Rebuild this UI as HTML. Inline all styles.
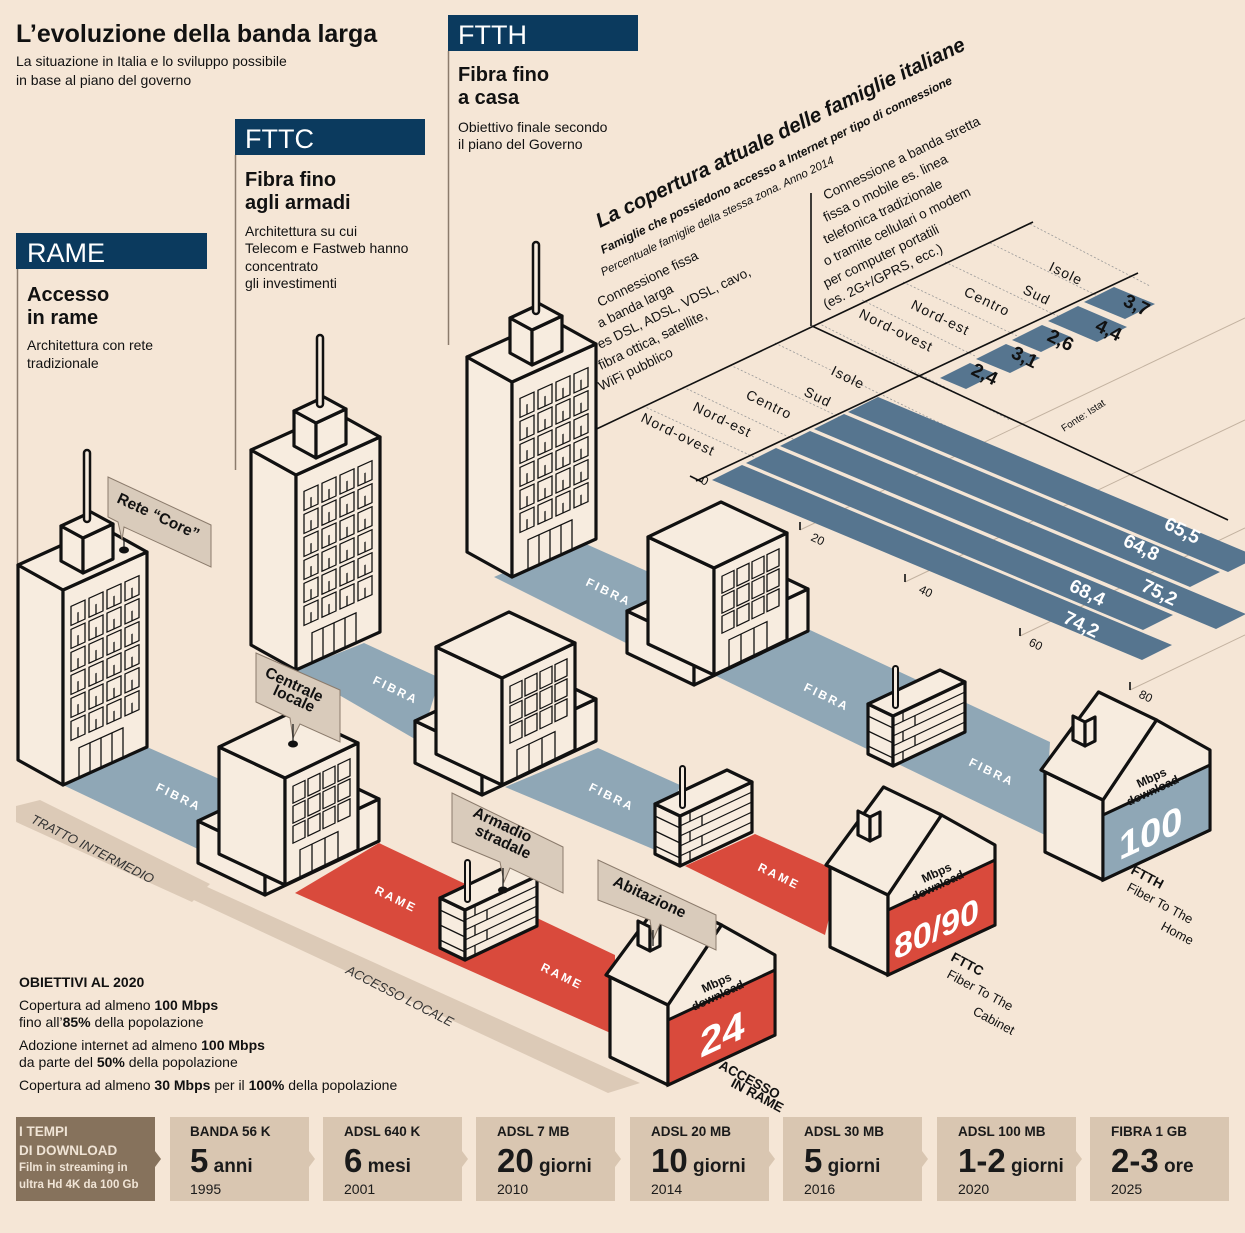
<!DOCTYPE html>
<html><head><meta charset="utf-8"><style>
html,body{margin:0;padding:0;background:#f5e6d6;}
svg{display:block;font-family:"Liberation Sans Narrow","Liberation Sans",sans-serif;}
.o{stroke:#111;stroke-width:3.2;stroke-linejoin:round;fill:#f7ecdf;}
.t{stroke:#111;stroke-width:1.3;fill:none;}
</style></head><body>
<svg width="1245" height="1233" viewBox="0 0 1245 1233" xmlns="http://www.w3.org/2000/svg">
<rect width="1245" height="1233" fill="#f5e6d6"/>
<defs>
<g id="tall">
 <polygon class="o" points="-45,-25 0,0 0,-195 -45,-220"/>
 <polygon class="o" points="0,0 84,-38 84,-233 0,-195"/>
 <polygon class="o" points="0,-195 84,-233 39,-258 -45,-220"/>
 <g transform="matrix(1,-0.452,0,1,0,0)" class="t">
  <rect x="8" y="-175" width="14" height="19"/><rect x="26" y="-175" width="14" height="19"/><rect x="44" y="-175" width="14" height="19"/><rect x="62" y="-175" width="14" height="19"/>
  <rect x="8" y="-152" width="14" height="19"/><rect x="26" y="-152" width="14" height="19"/><rect x="44" y="-152" width="14" height="19"/><rect x="62" y="-152" width="14" height="19"/>
  <rect x="8" y="-129" width="14" height="19"/><rect x="26" y="-129" width="14" height="19"/><rect x="44" y="-129" width="14" height="19"/><rect x="62" y="-129" width="14" height="19"/>
  <rect x="8" y="-106" width="14" height="19"/><rect x="26" y="-106" width="14" height="19"/><rect x="44" y="-106" width="14" height="19"/><rect x="62" y="-106" width="14" height="19"/>
  <rect x="8" y="-83" width="14" height="19"/><rect x="26" y="-83" width="14" height="19"/><rect x="44" y="-83" width="14" height="19"/><rect x="62" y="-83" width="14" height="19"/>
  <rect x="8" y="-60" width="14" height="19"/><rect x="26" y="-60" width="14" height="19"/><rect x="44" y="-60" width="14" height="19"/><rect x="62" y="-60" width="14" height="19"/>
  <path d="M15,-166v10M33,-166v10M51,-166v10M69,-166v10M15,-143v10M33,-143v10M51,-143v10M69,-143v10M15,-120v10M33,-120v10M51,-120v10M69,-120v10M15,-97v10M33,-97v10M51,-97v10M69,-97v10M15,-74v10M33,-74v10M51,-74v10M69,-74v10M15,-51v10M33,-51v10M51,-51v10M69,-51v10"/>
  <rect x="16" y="-30" width="44" height="30"/><path d="M27,-30v30M38,-30v30M49,-30v30"/>
 </g>
 <polygon class="o" points="-2,-224 20,-212 20,-247 -2,-259"/>
 <polygon class="o" points="20,-212 50,-226 50,-261 20,-247"/>
 <polygon class="o" points="20,-247 50,-261 28,-273 -2,-259"/>
 <rect x="21" y="-335" width="6" height="72" rx="3" fill="#f7ecdf" stroke="#111" stroke-width="2.5"/>
</g>
<g id="mid">
 <polygon class="o" points="-87,-22 -20,10 -20,-32 -87,-64"/>
 <polygon class="o" points="-20,10 94,-44 94,-86 -20,-32"/>
 <polygon class="o" points="-20,-32 94,-86 27,-118 -87,-64"/>
 <polygon class="o" points="-66,-31 0,0 0,-107 -66,-138"/>
 <polygon class="o" points="0,0 73,-35 73,-142 0,-107"/>
 <polygon class="o" points="0,-107 73,-142 7,-173 -66,-138"/>
 <g transform="matrix(1,-0.479,0,1,0,0)" class="t">
  <rect x="8" y="-95" width="12" height="17"/><rect x="23" y="-95" width="12" height="17"/><rect x="38" y="-95" width="12" height="17"/><rect x="53" y="-95" width="12" height="17"/>
  <rect x="8" y="-75" width="12" height="17"/><rect x="23" y="-75" width="12" height="17"/><rect x="38" y="-75" width="12" height="17"/><rect x="53" y="-75" width="12" height="17"/>
  <rect x="8" y="-55" width="12" height="17"/><rect x="23" y="-55" width="12" height="17"/><rect x="38" y="-55" width="12" height="17"/><rect x="53" y="-55" width="12" height="17"/>
  <rect x="15" y="-28" width="38" height="28"/><path d="M27,-28v28M40,-28v28"/>
 </g>
</g>
<g id="cab">
 <polygon class="o" points="-25,-12 0,0 0,-50 -25,-62"/>
 <polygon class="o" points="0,0 72,-34 72,-84 0,-50"/>
 <polygon class="o" points="0,-50 72,-84 47,-96 -25,-62"/>
 <g transform="matrix(1,-0.472,0,1,0,0)" class="t">
  <path d="M0,-10h72M0,-20h72M0,-30h72M0,-40h72M10,0v-10M22,-10v-10M10,-20v-10M22,-30v-10M10,-40v-10"/>
 </g>
 <path d="M-25,-20 L0,-8 M-25,-35 L0,-23 M-25,-50 L0,-38" class="t"/>
 <rect x="0" y="-100" width="5" height="42" rx="2.5" fill="#f7ecdf" stroke="#111" stroke-width="2"/>
</g>
<g id="house">
 <polygon class="o" points="-58,-28 0,0 0,-80 -58,-108"/>
 <polygon class="o" points="0,0 107,-50 107,-130 53.5,-160 0,-80"/>
 <polygon class="o" points="0,-80 53.5,-160 -4.5,-188 -62,-110"/>
 <polygon class="o" points="-30,-140 -18,-134 -18,-158 -30,-164"/>
 <polygon class="o" points="-18,-134 -8,-139 -8,-163 -18,-158"/>
</g>
</defs>

<polygon points="16,806 40,800 210,884 192,902 16,822" fill="#dccab7"/>
<polygon points="183,895 205,886 640,1083 608,1093" fill="#dccab7"/>
<text transform="translate(30,822) rotate(27)" font-size="13" font-style="italic" fill="#333">TRATTO INTERMEDIO</text>
<text transform="translate(345,973) rotate(27)" font-size="13" font-style="italic" fill="#333">ACCESSO LOCALE</text>

<path d="M17.5,269V570M235.5,155V470M448.5,51V345" stroke="#8b7b6c" stroke-width="1.5"/>

<g stroke="#c3b2a0" stroke-width="1">
<path d="M800,530L1245,318M905,582L1245,420M1020,636L1245,528M1130,690L1245,635"/>
</g>
<g stroke="#999" stroke-width="0.8" stroke-dasharray="2,2">
<path d="M643,406L830,492M683,387L880,480M730,365L930,460M775,343L975,440M818,323L1010,420"/>
<path d="M862,300L975,356M903,282L1030,342M945,262L1070,322M990,243L1110,302M1030,224L1150,286"/>
</g>
<g stroke="#111" stroke-width="1.6" fill="none">
<path d="M586,434L1033,222"/>
<path d="M811,193V326"/>
<path d="M812,326L1228,520"/>
<path d="M696,481L1138,273"/>
<path d="M690,476l12,6M800,530v-8M905,582v-8M1020,636v-8M1130,690v-8"/>
</g>
<g fill="#56758f">
<polygon points="712,480 742,465 1172,645 1142,660"/>
<polygon points="746,463 776,448 1173,615 1143,630"/>
<polygon points="780,446 810,431 1246,614 1216,629"/>
<polygon points="814,429 844,414 1220,572 1190,587"/>
<polygon points="848,412 878,397 1258,557 1228,572"/>
</g>
<g fill="#56758f">
<polygon points="940,378 970,363 996,374 966,389"/>
<polygon points="976,359 1006,344 1040,358 1010,373"/>
<polygon points="1012,340 1042,325 1071,337 1041,352"/>
<polygon points="1048,321 1078,306 1127,327 1097,342"/>
<polygon points="1084,302 1114,287 1155,304 1125,319"/>
</g>
<g font-weight="bold" font-size="19" fill="#fff">
<text transform="translate(1163,528) rotate(26)">65,5</text>
<text transform="translate(1122,545) rotate(26)">64,8</text>
<text transform="translate(1140,590) rotate(26)">75,2</text>
<text transform="translate(1068,590) rotate(26)">68,4</text>
<text transform="translate(1062,622) rotate(26)">74,2</text>
</g>
<g font-weight="bold" font-size="19" fill="#111">
<text transform="translate(1122,305) rotate(26)">3,7</text>
<text transform="translate(1094,330) rotate(26)">4,4</text>
<text transform="translate(1046,340) rotate(26)">2,6</text>
<text transform="translate(1010,357) rotate(26)">3,1</text>
<text transform="translate(970,374) rotate(26)">2,4</text>
</g>
<g font-size="14" fill="#111" letter-spacing="1.2">
<text transform="translate(640,421) rotate(26)">Nord-ovest</text>
<text transform="translate(692,410) rotate(26)">Nord-est</text>
<text transform="translate(745,398) rotate(26)">Centro</text>
<text transform="translate(803,395) rotate(26)">Sud</text>
<text transform="translate(830,374) rotate(26)">Isole</text>
<text transform="translate(858,317) rotate(26)">Nord-ovest</text>
<text transform="translate(910,308) rotate(26)">Nord-est</text>
<text transform="translate(963,295) rotate(26)">Centro</text>
<text transform="translate(1022,293) rotate(26)">Sud</text>
<text transform="translate(1048,270) rotate(26)">Isole</text>
</g>
<g font-size="12" fill="#111">
<text transform="translate(700,483) rotate(26)">0</text>
<text transform="translate(810,540) rotate(26)">20</text>
<text transform="translate(918,592) rotate(26)">40</text>
<text transform="translate(1028,645) rotate(26)">60</text>
<text transform="translate(1138,697) rotate(26)">80</text>
<text transform="translate(1064,432) rotate(-33)" font-size="10">Fonte: Istat</text>
</g>
<g fill="#111">
<text transform="translate(600,228) rotate(-26)" font-size="20.5" font-weight="bold" font-style="italic">La copertura attuale delle famiglie italiane</text>
<text transform="translate(603,254) rotate(-26)" font-size="12" font-weight="bold" font-style="italic">Famiglie che possiedono accesso a Internet per tipo di connessione</text>
<text transform="translate(603,276) rotate(-26)" font-size="11.5" font-style="italic">Percentuale famiglie della stessa zona. Anno 2014</text>
<g font-size="13.5">
<text transform="translate(600,307) rotate(-26)">Connessione fissa</text>
<text transform="translate(600,328) rotate(-26)">a banda larga</text>
<text transform="translate(600,349) rotate(-26)">es DSL, ADSL, VDSL, cavo,</text>
<text transform="translate(601,370) rotate(-26)">fibra ottica, satellite,</text>
<text transform="translate(601,391) rotate(-26)">WiFi pubblico</text>
<text transform="translate(826,200) rotate(-26)">Connessione a banda stretta</text>
<text transform="translate(826,222) rotate(-26)">fissa o mobile es. linea</text>
<text transform="translate(826,244) rotate(-26)">telefonica tradizionale</text>
<text transform="translate(826,266) rotate(-26)">o tramite cellulari o modem</text>
<text transform="translate(826,288) rotate(-26)">per computer portatili</text>
<text transform="translate(826,309) rotate(-26)">(es. 2G+/GPRS, ecc.)</text>
</g>
</g>

<g fill="#8fa7b6">
<polygon points="63,785 147,747 260,797 200,850"/>
<polygon points="296,670 364,643 440,678 420,742"/>
<polygon points="505,787 598,748 680,785 660,852"/>
<polygon points="494,577 577,540 660,577 640,650"/>
<polygon points="714,675 810,630 1050,742 1045,835"/>
</g>
<g fill="#d94a3c">
<polygon points="295,893 379,843 615,955 615,1035"/>
<polygon points="685,866 755,834 840,872 825,935"/>
</g>
<g fill="#fff" font-size="12" font-weight="bold" letter-spacing="2.5">
<text transform="translate(155,790) rotate(26)">FIBRA</text>
<text transform="translate(372,683) rotate(26)">FIBRA</text>
<text transform="translate(588,790) rotate(26)">FIBRA</text>
<text transform="translate(585,585) rotate(26)">FIBRA</text>
<text transform="translate(803,690) rotate(26)">FIBRA</text>
<text transform="translate(968,765) rotate(26)">FIBRA</text>
<text transform="translate(374,893) rotate(26)">RAME</text>
<text transform="translate(540,970) rotate(26)">RAME</text>
<text transform="translate(757,870) rotate(26)">RAME</text>
</g>

<use href="#tall" transform="translate(512,577)"/>
<use href="#tall" transform="translate(296,670)"/>
<use href="#tall" transform="translate(63,785)"/>
<use href="#mid" transform="translate(714,675)"/>
<use href="#mid" transform="translate(502,785)"/>
<use href="#mid" transform="translate(285,885)"/>
<use href="#cab" transform="translate(893,766)"/>
<use href="#cab" transform="translate(680,866)"/>
<use href="#cab" transform="translate(465,960)"/>
<ellipse cx="124" cy="550" rx="5" ry="3.5" fill="#111"/>
<ellipse cx="293" cy="744" rx="5" ry="3.5" fill="#111"/>
<ellipse cx="503" cy="890" rx="5" ry="3.5" fill="#111"/>

<g transform="translate(1103,880)">
 <use href="#house"/>
 <polygon points="0,0 107,-50 107,-115 0,-65" fill="#8fa7b6" stroke="#111" stroke-width="3"/>
 <g transform="matrix(1,-0.467,0,1,0,0)"><text x="16" y="-12" font-size="38" font-weight="bold" fill="#fff">100</text></g>
 <text transform="translate(36,-92) rotate(-25)" font-size="12" font-weight="bold" fill="#111">Mbps</text>
 <text transform="translate(26,-74) rotate(-25)" font-size="12" font-weight="bold" fill="#111">download</text>
</g>
<g transform="translate(888,975)">
 <use href="#house"/>
 <polygon points="0,0 107,-50 107,-115 0,-65" fill="#d94a3c" stroke="#111" stroke-width="3"/>
 <g transform="matrix(1,-0.467,0,1,0,0)"><text x="6" y="-12" font-size="34" font-weight="bold" fill="#fff">80/90</text></g>
 <text transform="translate(36,-92) rotate(-25)" font-size="12" font-weight="bold" fill="#111">Mbps</text>
 <text transform="translate(26,-74) rotate(-25)" font-size="12" font-weight="bold" fill="#111">download</text>
</g>
<g transform="translate(668,1085)">
 <use href="#house"/>
 <polygon points="0,0 107,-50 107,-115 0,-65" fill="#d94a3c" stroke="#111" stroke-width="3"/>
 <g transform="matrix(1,-0.467,0,1,0,0)"><text x="32" y="-12" font-size="40" font-weight="bold" fill="#fff">24</text></g>
 <text transform="translate(36,-92) rotate(-25)" font-size="12" font-weight="bold" fill="#111">Mbps</text>
 <text transform="translate(26,-74) rotate(-25)" font-size="12" font-weight="bold" fill="#111">download</text>
</g>
<g fill="#111" font-size="13.5" font-weight="bold">
<text transform="translate(718,1068) rotate(28)">ACCESSO</text>
<text transform="translate(730,1086) rotate(28)">IN RAME</text>
<text transform="translate(950,960) rotate(28)">FTTC</text>
<text transform="translate(1130,873) rotate(28)">FTTH</text>
</g>
<g fill="#111" font-size="13">
<text transform="translate(946,977) rotate(28)">Fiber To The</text>
<text transform="translate(972,1014) rotate(28)">Cabinet</text>
<text transform="translate(1126,890) rotate(28)">Fiber To The</text>
<text transform="translate(1160,929) rotate(28)">Home</text>
</g>

<g fill="#d9cbbb" stroke="#8b7b6c" stroke-width="1">
<polygon points="108,477 211,525 211,567 124,527 122,540 118,522 108,517"/>
<polygon points="256,653 340,690 340,742 300,724 293,738 290,718 256,702"/>
<polygon points="452,793 563,847 563,893 510,868 504,882 500,862 452,842"/>
<polygon points="598,860 716,915 716,950 660,924 653,940 650,920 598,900"/>
</g>
<path d="M124,540v8M293,724v18M503,868v20M653,930v16" stroke="#111" stroke-width="1.2"/>
<g fill="#111" font-size="15.5" font-weight="bold">
<text transform="translate(116,502) rotate(25)">Rete “Core”</text>
<text transform="translate(264,676) rotate(25)">Centrale</text>
<text transform="translate(272,694) rotate(25)">locale</text>
<text transform="translate(472,816) rotate(25)">Armadio</text>
<text transform="translate(474,834) rotate(25)">stradale</text>
<text transform="translate(612,885) rotate(25)">Abitazione</text>
</g>

<text x="16" y="42" font-size="25" font-weight="bold" fill="#111">L’evoluzione della banda larga</text>
<text x="16" y="66" font-size="14" fill="#111">La situazione in Italia e lo sviluppo possibile</text>
<text x="16" y="85" font-size="14" fill="#111">in base al piano del governo</text>

<rect x="16" y="233" width="191" height="36" fill="#0b3a5e"/>
<text x="27" y="262" font-size="27" fill="#fff">RAME</text>
<text x="27" y="301" font-size="20" font-weight="bold" fill="#111">Accesso</text>
<text x="27" y="324" font-size="20" font-weight="bold" fill="#111">in rame</text>
<text x="27" y="350" font-size="14" fill="#111">Architettura con rete</text>
<text x="27" y="368" font-size="14" fill="#111">tradizionale</text>

<rect x="235" y="119" width="190" height="36" fill="#0b3a5e"/>
<text x="245" y="148" font-size="27" fill="#fff">FTTC</text>
<text x="245" y="186" font-size="20" font-weight="bold" fill="#111">Fibra fino</text>
<text x="245" y="209" font-size="20" font-weight="bold" fill="#111">agli armadi</text>
<text x="245" y="236" font-size="14" fill="#111">Architettura su cui</text>
<text x="245" y="253" font-size="14" fill="#111">Telecom e Fastweb hanno</text>
<text x="245" y="271" font-size="14" fill="#111">concentrato</text>
<text x="245" y="288" font-size="14" fill="#111">gli investimenti</text>

<rect x="448" y="15" width="190" height="36" fill="#0b3a5e"/>
<text x="458" y="44" font-size="27" fill="#fff">FTTH</text>
<text x="458" y="81" font-size="20" font-weight="bold" fill="#111">Fibra fino</text>
<text x="458" y="104" font-size="20" font-weight="bold" fill="#111">a casa</text>
<text x="458" y="132" font-size="14" fill="#111">Obiettivo finale secondo</text>
<text x="458" y="149" font-size="14" fill="#111">il piano del Governo</text>

<g fill="#111" font-size="14">
<text x="19" y="987" font-weight="bold">OBIETTIVI AL 2020</text>
<text x="19" y="1010">Copertura ad almeno <tspan font-weight="bold">100 Mbps</tspan></text>
<text x="19" y="1027">fino all’<tspan font-weight="bold">85%</tspan> della popolazione</text>
<text x="19" y="1050">Adozione internet ad almeno <tspan font-weight="bold">100 Mbps</tspan></text>
<text x="19" y="1067">da parte del <tspan font-weight="bold">50%</tspan> della popolazione</text>
<text x="19" y="1090">Copertura ad almeno <tspan font-weight="bold">30 Mbps</tspan> per  il <tspan font-weight="bold">100%</tspan> della popolazione</text>
</g>

<rect x="16" y="1117" width="139" height="84" fill="#86725c"/>
<polygon points="155,1151 161,1159 155,1167" fill="#86725c"/>
<g fill="#f0e4d6" font-weight="bold">
<text x="19" y="1136" font-size="13.5">I TEMPI</text>
<text x="19" y="1155" font-size="13.5">DI DOWNLOAD</text>
<text x="19" y="1171" font-size="11.5">Film in streaming in</text>
<text x="19" y="1188" font-size="11.5">ultra Hd 4K da 100 Gb</text>
</g>
<g fill="#d9c6b1">
<rect x="170" y="1117" width="139" height="84"/><polygon points="309,1151 315,1159 309,1167"/>
<rect x="323" y="1117" width="139" height="84"/><polygon points="462,1151 468,1159 462,1167"/>
<rect x="476" y="1117" width="139" height="84"/><polygon points="615,1151 621,1159 615,1167"/>
<rect x="630" y="1117" width="139" height="84"/><polygon points="769,1151 775,1159 769,1167"/>
<rect x="783" y="1117" width="139" height="84"/><polygon points="922,1151 928,1159 922,1167"/>
<rect x="937" y="1117" width="139" height="84"/><polygon points="1076,1151 1082,1159 1076,1167"/>
<rect x="1090" y="1117" width="139" height="84"/>
</g>
<g fill="#1a1a1a">
<g font-size="13.5" font-weight="bold">
<text x="190" y="1136">BANDA 56 K</text><text x="344" y="1136">ADSL 640 K</text><text x="497" y="1136">ADSL 7 MB</text><text x="651" y="1136">ADSL 20 MB</text><text x="804" y="1136">ADSL 30 MB</text><text x="958" y="1136">ADSL 100 MB</text><text x="1111" y="1136">FIBRA 1 GB</text>
</g>
<g font-weight="bold">
<text x="190" y="1172" font-size="33">5<tspan font-size="19"> anni</tspan></text>
<text x="344" y="1172" font-size="33">6<tspan font-size="19"> mesi</tspan></text>
<text x="497" y="1172" font-size="33">20<tspan font-size="19"> giorni</tspan></text>
<text x="651" y="1172" font-size="33">10<tspan font-size="19"> giorni</tspan></text>
<text x="804" y="1172" font-size="33">5<tspan font-size="19"> giorni</tspan></text>
<text x="958" y="1172" font-size="33">1-2<tspan font-size="19"> giorni</tspan></text>
<text x="1111" y="1172" font-size="33">2-3<tspan font-size="19"> ore</tspan></text>
</g>
<g font-size="14">
<text x="190" y="1194">1995</text><text x="344" y="1194">2001</text><text x="497" y="1194">2010</text><text x="651" y="1194">2014</text><text x="804" y="1194">2016</text><text x="958" y="1194">2020</text><text x="1111" y="1194">2025</text>
</g>
</g>
</svg>
</body></html>
